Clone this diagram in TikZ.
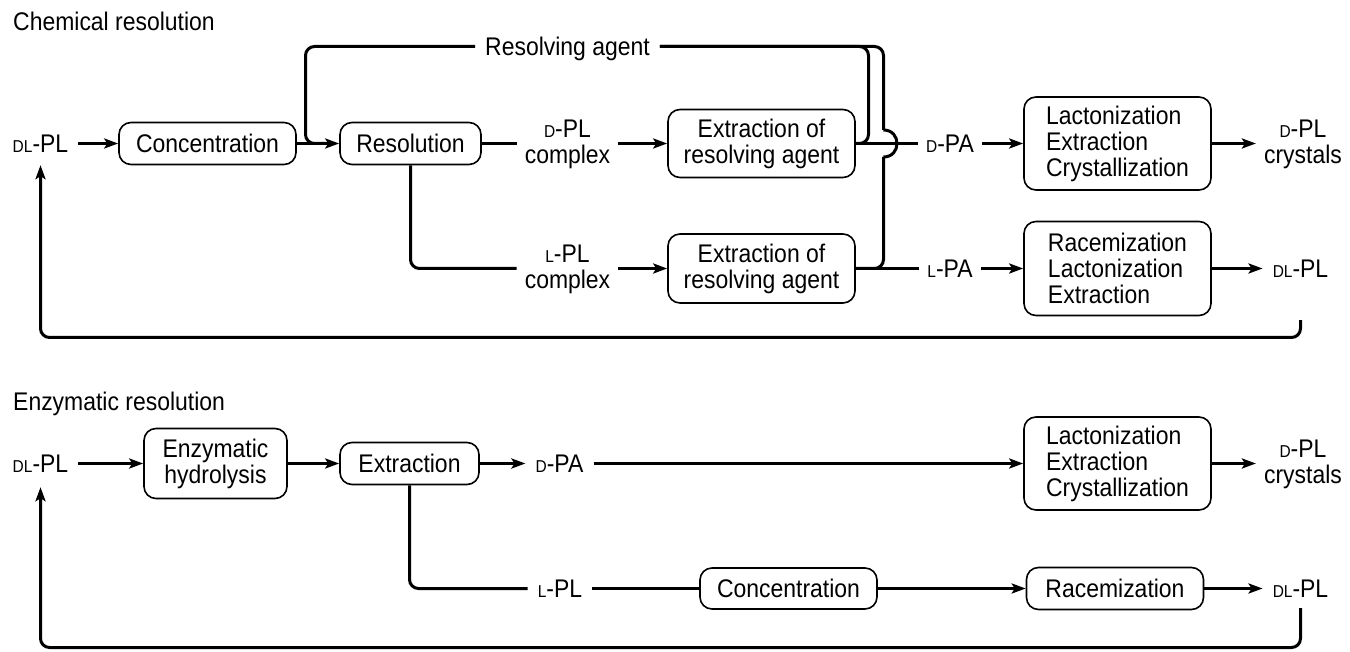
\documentclass[tikz,border=0pt]{standalone}
\usepackage{fontspec}
\setmainfont[FakeStretch=0.9]{Liberation Sans}
\usetikzlibrary{arrows.meta}
\newcommand\smc[1]{{\fontsize{17.2pt}{17.2pt}\selectfont #1}}
\begin{document}
\begin{tikzpicture}[x=1pt,y=-1pt,
  every node/.style={font=\fontsize{25.5pt}{26pt}\selectfont},
  box/.style={draw, line width=1.6pt, rounded corners=12pt, inner sep=0pt, align=center},
  lbox/.style={box, align=left},
  lbl/.style={inner xsep=10pt, inner ysep=0pt, text height=18.3pt, text depth=0pt},
  lbltwo/.style={inner xsep=8pt, inner ysep=0pt, align=center},
  conn/.style={line width=3pt, rounded corners=9pt},
  arr/.style={conn, -{Stealth[length=14pt,width=10pt,inset=3pt]}},
]
\useasboundingbox (0,0) rectangle (1350,652);

% ---------------- Chemical resolution ----------------
\node[anchor=base west, inner sep=0pt] (t1) at (13,31) {Chemical resolution};

\node[lbl, inner ysep=12.35pt] (dl1) at (40.5,143.5) {\smc{DL}-PL};
\node[box, minimum width=177pt, minimum height=42pt] (conc1) at (207.5,143.5) {Concentration};
\node[box, minimum width=141pt, minimum height=42pt] (res) at (410.5,143.5) {Resolution};
\node[lbltwo] (dplc) at (567.5,144.5) {\smc{D}-PL\\complex};
\node[lbltwo] (lplc) at (567.5,269.5) {\smc{L}-PL\\complex};
\node[box, minimum width=187pt, minimum height=68pt] (ext1) at (761.5,143.5) {Extraction of\\resolving agent};
\node[box, minimum width=187pt, minimum height=69pt] (ext2) at (761.5,268.5) {Extraction of\\resolving agent};
\node[lbl] (ra) at (567.5,46.5) {Resolving agent};
\node[lbl, inner xsep=8pt] (dpa1) at (950,143.5) {\smc{D}-PA};
\node[lbl, inner xsep=8pt] (lpa1) at (950,268.5) {\smc{L}-PA};
\node[lbox, minimum width=187pt, minimum height=93pt] (lac1) at (1117.5,143.5) {Lactonization\\Extraction\\Crystallization};
\node[lbox, minimum width=187pt, minimum height=94pt] (rac1) at (1117.5,268.5) {Racemization\\Lactonization\\Extraction};
\node[lbltwo] (dpc1) at (1303,144.5) {\smc{D}-PL\\crystals};
\node[lbl, inner ysep=42.35pt] (dl2) at (1300.5,268.5) {\smc{DL}-PL};

\coordinate (raA) at (305.5,46.5);
\coordinate (raB) at (305.5,143.5);
\coordinate (raC) at (326,143.5);
\coordinate (inA) at (868.5,143.5);
\coordinate (inB) at (868.5,46.5);
\coordinate (ouA) at (883.5,268.5);
\coordinate (ouB) at (883.5,157);
\coordinate (ouC) at (883.5,130);
\coordinate (ouD) at (883.5,46.5);
\coordinate (fbA) at (40.5,337.5);

\draw[arr] (dl1) -- (conc1);
\draw[arr] (conc1) -- (res);
\draw[conn] (ra.west) -- (raA) -- (raB) -- (raC);
\draw[conn] (res.east) -- (dplc.west |- res.east);
\draw[conn] (res.south) |- (lplc.west |- ext2.west);
\draw[arr] (dplc.east |- ext1.west) -- (ext1.west);
\draw[arr] (lplc.east |- ext2.west) -- (ext2.west);
\draw[conn] (ext1.east) -- (dpa1.west);
\draw[conn] (ext2.east) -- (lpa1.west);
\draw[conn] (ext1.east) -- (inA) -- (inB) -- (ra.east);
\draw[conn] (ext2.east) -- (ouA) -- (ouB);
\draw[line width=3pt] (ouB) .. controls (901.5,157) and (901.5,130) .. (ouC);
\draw[conn] (ouC) -- (ouD) -- (ra.east);
\draw[arr] (dpa1) -- (lac1);
\draw[arr] (lpa1) -- (rac1);
\draw[arr] (lac1.east) -- (dpc1.west |- lac1.east);
\draw[arr] (rac1.east) -- (dl2.west |- rac1.east);
\draw[arr] (dl2.south) |- (fbA) -- (dl1.south);

% ---------------- Enzymatic resolution ----------------
\node[anchor=base west, inner sep=0pt] (t2) at (13,410) {Enzymatic resolution};

\node[lbl, inner ysep=14.35pt] (dl3) at (40.5,463.5) {\smc{DL}-PL};
\node[box, minimum width=143pt, minimum height=70pt] (enz) at (215.5,463.5) {Enzymatic\\hydrolysis};
\node[box, minimum width=139pt, minimum height=42pt] (ext3) at (409.5,463.5) {Extraction};
\node[lbl] (dpa2) at (559.5,463.5) {\smc{D}-PA};
\node[lbl] (lpl2) at (560,588.5) {\smc{L}-PL};
\node[box, minimum width=177pt, minimum height=41pt] (conc2) at (788.5,588.5) {Concentration};
\node[lbox, minimum width=187pt, minimum height=93pt] (lac2) at (1117.5,463.5) {Lactonization\\Extraction\\Crystallization};
\node[box, minimum width=177pt, minimum height=42pt] (rac2) at (1115,588.5) {Racemization};
\node[lbltwo] (dpc2) at (1303,464.5) {\smc{D}-PL\\crystals};
\node[lbl, inner ysep=10.35pt] (dl4) at (1300.5,588.5) {\smc{DL}-PL};

\coordinate (fbB) at (40.5,647.5);

\draw[arr] (dl3) -- (enz);
\draw[arr] (enz) -- (ext3);
\draw[arr] (ext3) -- (dpa2);
\draw[arr] (dpa2.east) -- (lac2.west |- dpa2.east);
\draw[conn] (ext3.south) |- (lpl2.west);
\draw[conn] (lpl2.east) -- (conc2.west |- lpl2.east);
\draw[arr] (conc2) -- (rac2);
\draw[arr] (lac2.east) -- (dpc2.west |- lac2.east);
\draw[arr] (rac2.east) -- (dl4.west |- rac2.east);
\draw[arr] (dl4.south) |- (fbB) -- (dl3.south);
\end{tikzpicture}
\end{document}
